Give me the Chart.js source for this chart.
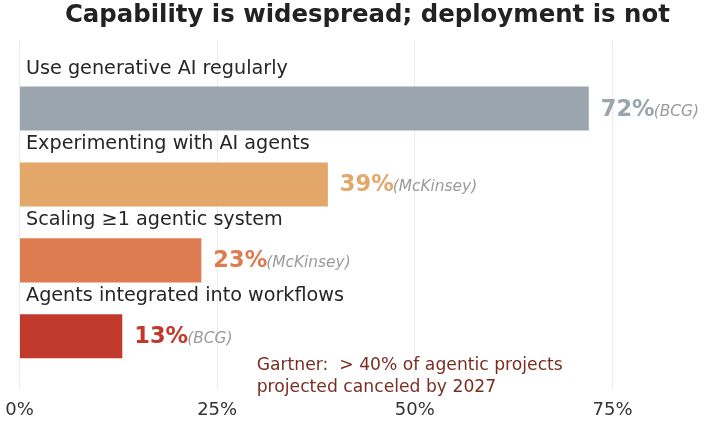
<!DOCTYPE html>
<html>
<head>
<meta charset="utf-8">
<script src="https://cdn.jsdelivr.net/npm/chart.js@4.4.1/dist/chart.umd.min.js"></script>
<style>
  html, body { margin: 0; padding: 0; background: #fff; }
</style>
</head>
<body>
<canvas id="adoptionChart" width="720" height="423"></canvas>
<script>
// data
const categories = ['Use generative AI regularly', 'Experimenting with AI agents', 'Scaling ≥1 agentic system', 'Agents integrated into workflows'];
const values = [72, 39, 23, 13];
const sources = ['(BCG)', '(McKinsey)', '(McKinsey)', '(BCG)'];
const barColors = ['#9aa5ae', '#e3a76a', '#dd7c51', '#c0392b'];
const xTicks = [0, 25, 50, 75];
const noteLines = ['Gartner:  > 40% of agentic projects', 'projected canceled by 2027'];
const notePos = [30, 3.53];

const FONT = '"DejaVu Sans", "Noto Sans", sans-serif';

// category labels above bars, value + source to the right, Gartner note
const barLabels = {
    id: 'barLabels',
    afterDatasetsDraw(chart) {
        const { ctx, chartArea, scales } = chart;
        const bars = chart.getDatasetMeta(0).data;
        ctx.save();
        ctx.textAlign = 'left';
        ctx.textBaseline = 'alphabetic';
        bars.forEach((bar, i) => {
            const top = bar.y - bar.height / 2;
            ctx.font = '19.2px ' + FONT;
            ctx.fillStyle = '#262626';
            ctx.fillText(categories[i], chartArea.left + 6.5, top - 13);

            const vx = bar.x + 12;
            const vy = bar.y + 7;
            const txt = values[i] + '%';
            ctx.font = 'bold 22.5px ' + FONT;
            ctx.fillStyle = barColors[i];
            ctx.fillText(txt, vx, vy);
            const w = ctx.measureText(txt).width;
            ctx.font = 'italic 15.4px ' + FONT;
            ctx.fillStyle = '#9b9b9b';
            ctx.fillText(sources[i], vx + w - 1, vy);
        });

        const nx = scales.x.getPixelForValue(notePos[0]);
        const ny = scales.y.getPixelForValue(notePos[1]);
        ctx.font = '17.2px ' + FONT;
        ctx.fillStyle = '#7a2e22';
        ctx.textBaseline = 'middle';
        noteLines.forEach((line, i) => {
            ctx.fillText(line, nx, ny + (i - 0.5) * 21.5);
        });
        ctx.restore();
    }
};

const ctx = document.getElementById('adoptionChart').getContext('2d');
const adoptionChart = new Chart(ctx, {
    type: 'bar',
    data: {
        datasets: [{
            data: values.map((v, i) => ({ x: v, y: i })),
            backgroundColor: barColors,
            borderWidth: 0,
            barPercentage: 0.58,
            categoryPercentage: 1
        }]
    },
    options: {
        indexAxis: 'y',
        responsive: false,
        animation: false,
        layout: {
            padding: { left: 19.5, right: 4.7, top: 0, bottom: 0 }
        },
        plugins: {
            legend: { display: false },
            tooltip: { enabled: false },
            title: {
                display: true,
                fullSize: false,
                text: 'Capability is widespread; deployment is not',
                color: '#222222',
                font: { family: FONT, size: 24.4, weight: 'bold' },
                padding: { top: 1, bottom: 10 }
            }
        },
        scales: {
            x: {
                type: 'linear',
                min: 0,
                max: 88,
                afterBuildTicks: function (scale) {
                    scale.ticks = xTicks.map(v => ({ value: v }));
                },
                ticks: {
                    color: '#333333',
                    font: { family: FONT, size: 18 },
                    padding: 2,
                    callback: function (value) {
                        return value + '%';
                    }
                },
                grid: {
                    color: '#ebebeb',
                    lineWidth: 1,
                    drawTicks: true,
                    tickLength: 8,
                    tickColor: 'rgba(0,0,0,0)'
                },
                border: { display: false }
            },
            y: {
                type: 'linear',
                min: -0.9,
                max: 3.7,
                reverse: true,
                offset: false,
                display: false,
                afterBuildTicks: function (scale) {
                    scale.ticks = values.map((v, i) => ({ value: i }));
                }
            }
        }
    },
    plugins: [barLabels]
});
</script>
</body>
</html>
